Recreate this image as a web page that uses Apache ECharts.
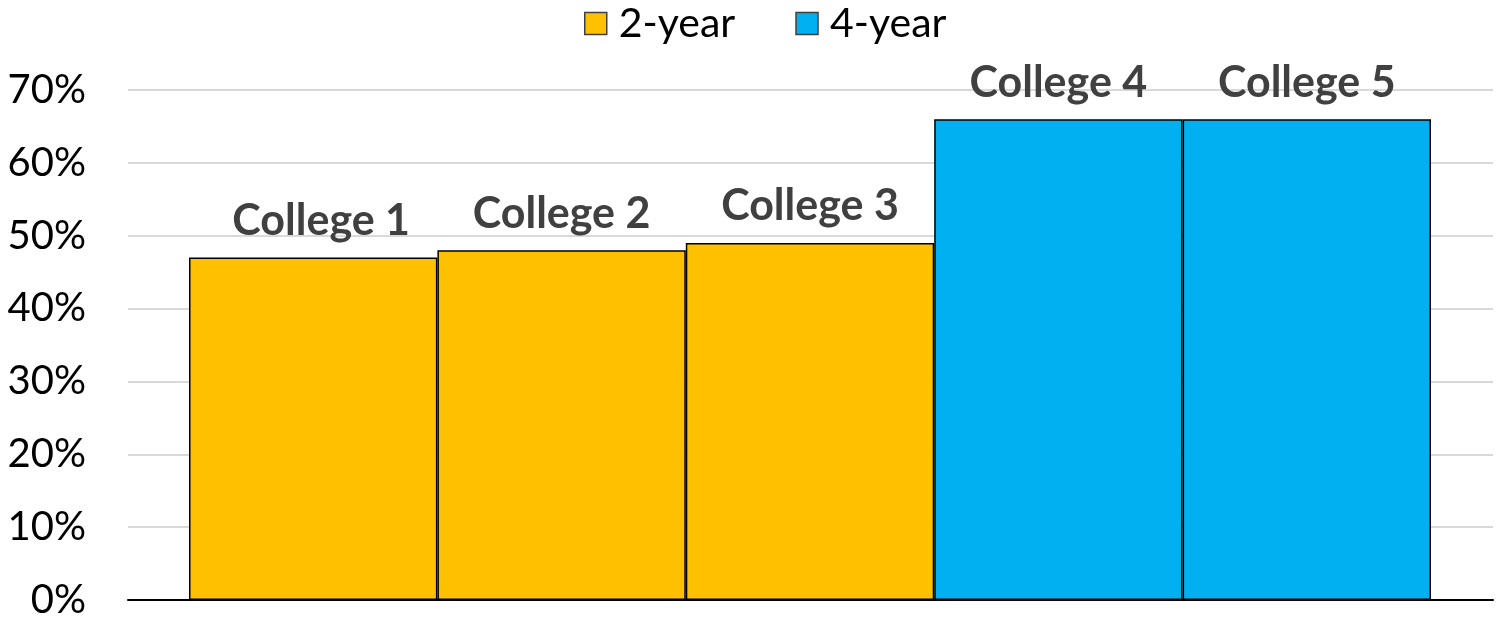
<!DOCTYPE html>
<html><head><meta charset="utf-8">
<script src="https://cdn.jsdelivr.net/npm/echarts@6/dist/echarts.min.js"></script>
<style>html,body{margin:0;padding:0;background:#fff}#c{width:1499px;height:620px}</style>
</head><body><div id="c"></div>
<script>
const categories = ['College 1','College 2','College 3','College 4','College 5'];
const twoYear = [47, 48, 49, null, null];
const fourYear = [null, null, null, 66, 66];
const yTicks = [0,10,20,30,40,50,60,70];

const chart = echarts.init(document.getElementById('c'));
const F = 'Lato';
const labelCfg = {show: true, position: 'top', distance: 15, formatter: p => p.name,
  fontFamily: F, fontWeight: 'bold', fontSize: 43, color: '#404040'};
const toItems = arr => arr.map((v, i) => i === 0 && v != null
  ? {value: v, label: {offset: [8, 0]}} : v);
chart.setOption({
  animation: false,
  backgroundColor: '#fff',
  textStyle: {fontFamily: F},
  legend: {
    top: -2, left: 579,
    data: ['2-year','4-year'],
    icon: 'rect', itemWidth: 22, itemHeight: 22, itemGap: 60,
    itemStyle: {borderColor: '#404040', borderWidth: 1.5},
    textStyle: {fontFamily: F, fontSize: 41, color: '#000', padding: [0,0,0,7]}
  },
  grid: [
    {left: 128, right: 6, top: 90, bottom: 20},
    {left: 189, right: 68, top: 90, bottom: 20}
  ],
  xAxis: [
    {gridIndex: 0, type: 'category', data: [''], axisTick: {show: false}, axisLabel: {show: false},
     axisLine: {lineStyle: {color: '#000', width: 2}}},
    {gridIndex: 1, type: 'category', data: categories, show: false}
  ],
  yAxis: [
    {gridIndex: 0, type: 'value', min: 0, max: 70, interval: 10,
     axisLine: {show: false}, axisTick: {show: false},
     axisLabel: {fontFamily: F, fontSize: 40, color: '#000', margin: 42,
       formatter: v => yTicks.includes(v) ? v + '%' : ''},
     splitLine: {lineStyle: {color: '#d9d9d9', width: 2}}},
    {gridIndex: 1, type: 'value', min: 0, max: 70, show: false, splitLine: {show: false}}
  ],
  series: [
    {name: '2-year', type: 'bar', xAxisIndex: 1, yAxisIndex: 1, stack: 's', data: toItems(twoYear),
     barWidth: '100%', z: 3,
     itemStyle: {color: '#FFC000', borderColor: '#000', borderWidth: 1.5},
     label: labelCfg},
    {name: '4-year', type: 'bar', xAxisIndex: 1, yAxisIndex: 1, stack: 's', data: fourYear,
     barWidth: '100%', z: 3,
     itemStyle: {color: '#00B0F0', borderColor: '#000', borderWidth: 1.5},
     label: labelCfg}
  ]
});
</script></body></html>
